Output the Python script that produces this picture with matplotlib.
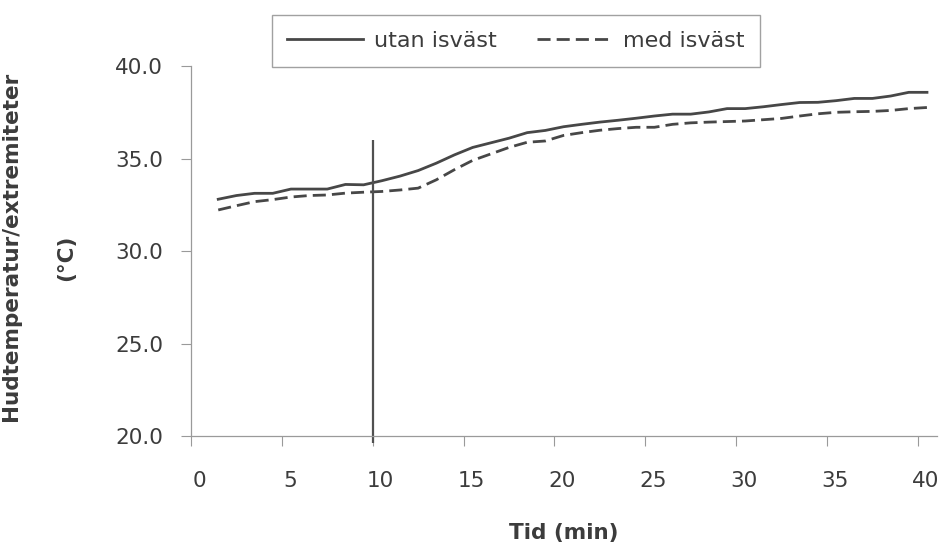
import matplotlib.pyplot as plt
import matplotlib.transforms as mtransforms
import numpy as np

plt.rcParams['font.family'] = ['DejaVu Sans']

# tid (min), mätpunkter mitt i varje minut
tid = np.arange(1.5, 41.0, 1.0)

utan_isvast = [32.80, 33.00, 33.12, 33.12, 33.35, 33.35, 33.35, 33.60, 33.58, 33.80,
               34.05, 34.35, 34.75, 35.20, 35.60, 35.85, 36.10, 36.40, 36.52, 36.72,
               36.85, 36.97, 37.07, 37.18, 37.30, 37.40, 37.40, 37.52, 37.70, 37.70,
               37.80, 37.92, 38.03, 38.04, 38.13, 38.25, 38.25, 38.38, 38.58, 38.58]

med_isvast = [32.22, 32.45, 32.67, 32.78, 32.92, 33.00, 33.03, 33.13, 33.18, 33.22,
              33.30, 33.40, 33.85, 34.40, 34.90, 35.25, 35.60, 35.88, 35.95, 36.25,
              36.40, 36.53, 36.62, 36.69, 36.69, 36.85, 36.93, 36.97, 37.00, 37.03,
              37.10, 37.17, 37.30, 37.42, 37.50, 37.53, 37.55, 37.60, 37.70, 37.76]

serie_namn = ['utan isväst', 'med isväst']

# markering vid 10 min
markering_tid = 10
markering_fran, markering_till = 19.6, 36.0

xticks = np.arange(0, 41, 5)
yticks = np.arange(20, 41, 5)

textfarg = '#3c3c3c'
linjefarg = '#474747'
axelfarg = '#9a9a9a'

fig = plt.figure(figsize=(9.45, 5.46), dpi=100)
ax = fig.add_axes([0.2021, 0.2015, 0.7894, 0.6775])

ax.plot(tid, utan_isvast, color=linjefarg, lw=2.0, solid_joinstyle='round')
ax.plot(tid, med_isvast, color=linjefarg, lw=2.0, linestyle=(0, (4.7, 2.2)))
ax.vlines(markering_tid, markering_fran, markering_till, color='#505050', lw=1.6, clip_on=False)

ax.set_xlim(0, 41.05)
ax.set_ylim(20, 40)
ax.set_xticks(xticks)
ax.set_yticks(yticks)
ax.set_yticklabels([f'{v:.1f}' for v in yticks])

for s in ['top', 'right']:
    ax.spines[s].set_visible(False)
for s in ['left', 'bottom']:
    ax.spines[s].set_color(axelfarg)
    ax.spines[s].set_linewidth(0.9)

ax.tick_params(axis='x', direction='out', length=7.2, width=0.8, color=axelfarg,
               pad=18, labelsize=15.5, labelcolor=textfarg)
ax.tick_params(axis='y', direction='out', length=7.2, width=0.8, color=axelfarg,
               pad=13, labelsize=15.5, labelcolor=textfarg)

# x-etiketterna sitter lite till höger om strecken
forskjut = mtransforms.ScaledTranslation(0.08, 0, fig.dpi_scale_trans)
for lbl in ax.get_xticklabels():
    lbl.set_transform(lbl.get_transform() + forskjut)

fig.text(0.597, 0.024, 'Tid (min)', ha='center', va='center', fontsize=15.5,
         fontweight='bold', color=textfarg)
fig.text(0.0115, 0.549, 'Hudtemperatur/extremiteter', rotation=90, ha='center',
         va='center', fontsize=15.5, fontweight='bold', color=textfarg)
fig.text(0.070, 0.527, '(°C)', rotation=90, ha='center', va='center', fontsize=15.5,
         fontweight='bold', color=textfarg)

handles = ax.get_lines()[:2]
leg = fig.legend(handles, serie_namn, loc='center', bbox_to_anchor=(0.546, 0.925),
                 ncol=2, fontsize=16, frameon=True, fancybox=False, handlelength=3.4,
                 handletextpad=0.5, columnspacing=1.8, borderpad=0.7)
leg.get_frame().set_edgecolor('#8a8a8a')
leg.get_frame().set_linewidth(1.0)
for t in leg.get_texts():
    t.set_color(textfarg)

fig.savefig('out.png', dpi=100)
